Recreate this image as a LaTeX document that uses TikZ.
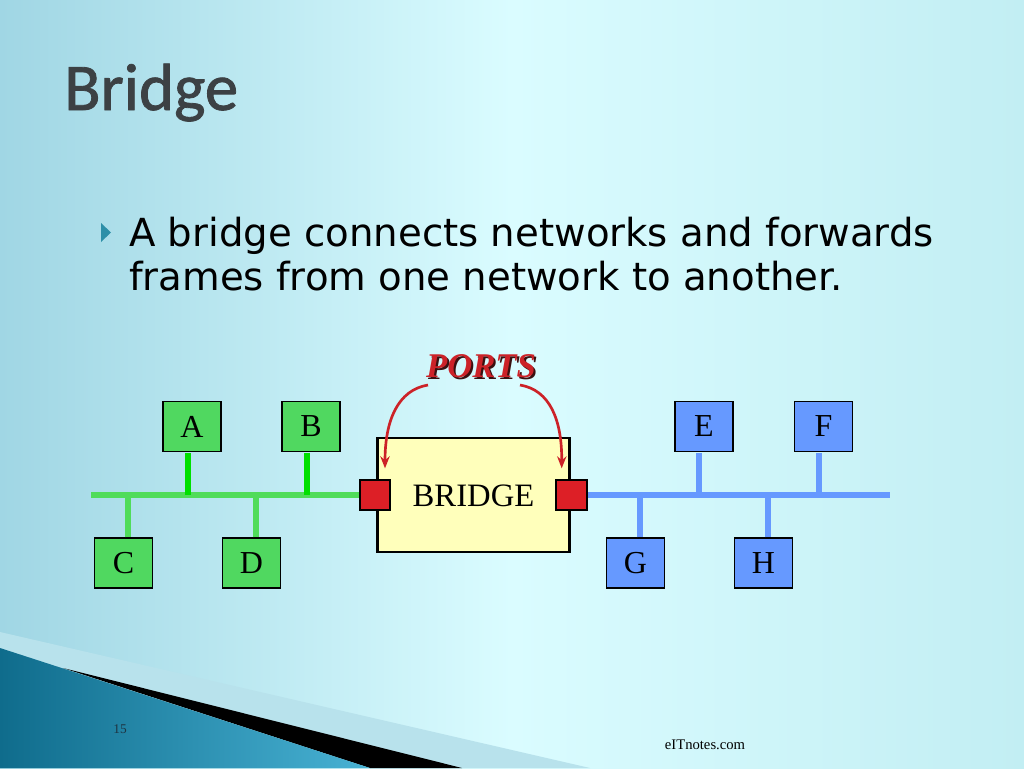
\documentclass[tikz,border=0pt]{standalone}
\usepackage{fontspec}
\setmainfont{Liberation Serif}
\newfontfamily\titlefont[FakeBold=1.2]{Carlito}
\newfontfamily\bodyfont{DejaVu Sans}
\usetikzlibrary{arrows.meta}
\definecolor{bgL}{HTML}{A0D6E4}
\definecolor{bgM}{HTML}{DAFCFF}
\definecolor{bgR}{HTML}{C2EEF3}
\definecolor{gbox}{HTML}{50D860}
\definecolor{gbus}{HTML}{50DC5A}
\definecolor{gstub}{HTML}{00E000}
\definecolor{bbox}{HTML}{6699FF}
\definecolor{bbus}{HTML}{6699FF}
\definecolor{portred}{HTML}{DD1F26}
\definecolor{arrred}{HTML}{CC2228}
\definecolor{pale}{HTML}{FFFFBB}
\definecolor{wedgeL}{HTML}{0F6C8C}
\definecolor{wedgeR}{HTML}{48B2D4}
\definecolor{band}{HTML}{B8E2EC}
\definecolor{titlecol}{HTML}{3C4144}
\definecolor{bulletcol}{HTML}{2D8FA8}
\definecolor{shadowcol}{HTML}{3A1010}
\definecolor{pagecol}{HTML}{1E3442}
\tikzset{
  host/.style={draw=black, line width=0.9pt, minimum width=43.5pt, minimum height=37.5pt, inner sep=0pt, font=\fontsize{24}{28}\selectfont},
  ghost/.style={host, fill=gbox},
  bhost/.style={host, fill=bbox},
  port/.style={draw=black, line width=1.5pt, fill=portred, minimum size=23pt, inner sep=0pt},
  gline/.style={gbus, line width=4.5pt},
  gsline/.style={gstub, line width=4.2pt},
  bline/.style={bbus, line width=4.5pt},
  parrow/.style={arrred, line width=2pt, -{Stealth[length=9pt,width=7pt]}},
  bodytext/.style={anchor=base west, inner sep=0pt, font=\bodyfont\fontsize{29}{34}\selectfont}
}
\begin{document}
\begin{tikzpicture}[x=0.75pt,y=-0.75pt]
\useasboundingbox (0,0) rectangle (1024,768);
% background
\shade[left color=bgL, right color=bgR, middle color=bgM] (0,0) rectangle (1024,768);
% bottom-left decoration
\fill[band] (0,632) -- (590,768) -- (0,768) -- cycle;
\fill[black] (63,668) -- (462,768) -- (370,768) -- cycle;
\shade[left color=wedgeL, right color=wedgeR] (0,648) -- (370,768) -- (0,768) -- cycle;
% title
\node[anchor=base west, inner sep=0pt, text=titlecol, font=\titlefont\fontsize{50}{60}\selectfont] (title) at (64,110) {Bridge};
% bullet
\fill[bulletcol] (101,223) -- (111,232.5) -- (101,242) -- cycle;
\node[bodytext] (l1) at (129,246.5) {A bridge connects networks and forwards};
\node[bodytext] (l2) at (129,290) {frames from one network to another.};
% buses
\coordinate (gstart) at (91,495);
\coordinate (bend) at (890,495);
% bridge
\node[draw=black, line width=2.2pt, fill=pale, minimum width=144pt, minimum height=85.5pt, inner sep=0pt] (bridge) at (473.5,495) {};
\node[anchor=base, inner sep=0pt, font=\fontsize{24.5}{28}\selectfont] (blabel) at (473.5,506.5) {BRIDGE};
\draw[gline] (gstart) -- (375,495) coordinate (gend);
\draw[bline] (572,495) coordinate (bstart) -- (bend);
\node[port] (portL) at (375,495) {};
\node[port] (portR) at (571.7,495) {};
% hosts
\node[ghost] (A) at (192,426.5) {A};
\node[ghost] (B) at (311,426.5) {B};
\node[ghost] (C) at (123.5,563) {C};
\node[ghost] (D) at (251.5,563) {D};
\node[bhost] (E) at (704,426.5) {E};
\node[bhost] (F) at (823.5,426.5) {F};
\node[bhost] (G) at (635.5,563) {G};
\node[bhost] (H) at (763.5,563) {H};
% stubs
\draw[gsline] ([xshift=-3pt,yshift=-0.5pt]A.south) -- ([xshift=-3pt]A.south |- gstart);
\draw[gsline] ([xshift=-3pt,yshift=-0.5pt]B.south) -- ([xshift=-3pt]B.south |- gstart);
\draw[gline] ([xshift=3.5pt]C.north) -- ([xshift=3.5pt]C.north |- gstart);
\draw[gline] ([xshift=3pt]D.north) -- ([xshift=3pt]D.north |- gstart);
\draw[bline] ([xshift=-3.4pt,yshift=-0.5pt]E.south) -- ([xshift=-3.4pt]E.south |- bend);
\draw[bline] ([xshift=-3.3pt,yshift=-0.5pt]F.south) -- ([xshift=-3.3pt]F.south |- bend);
\draw[bline] ([xshift=3.4pt]G.north) -- ([xshift=3.4pt]G.north |- bend);
\draw[bline] ([xshift=3.2pt]H.north) -- ([xshift=3.2pt]H.north |- bend);
% PORTS label
\node[anchor=base, inner sep=0pt, text=shadowcol, font=\bfseries\itshape\fontsize{26}{30}\selectfont] at (483,379.5) {PORTS};
\node[anchor=base, inner sep=0pt, text=arrred, font=\bfseries\itshape\fontsize{26}{30}\selectfont] (ports) at (481,377.5) {PORTS};
\coordinate (pl) at (428,385);
\coordinate (pr) at (520,385);
\draw[parrow] (pl) .. controls (398,390) and (385,420) .. ([xshift=7.5pt,yshift=20pt]portL.center);
\draw[parrow] (pr) .. controls (550,390) and (562,420) .. ([xshift=-7.5pt,yshift=20pt]portR.center);
% footer
\node[anchor=base, inner sep=0pt, text=pagecol, font=\fontsize{10}{11}\selectfont] (pg) at (120,733) {15};
\node[anchor=base, inner sep=0pt, font=\fontsize{11}{12}\selectfont] (site) at (705,749) {eITnotes.com};
\end{tikzpicture}
\end{document}
